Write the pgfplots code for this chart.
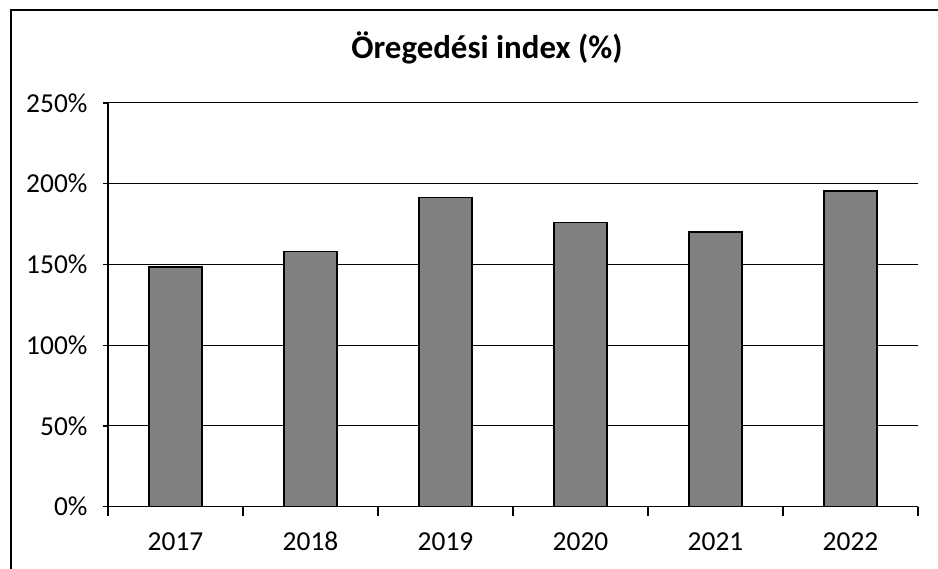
\documentclass[border=0pt]{standalone}
\usepackage{fontspec}
\setmainfont{Carlito}
\usepackage{pgfplots}
\pgfplotsset{compat=1.18}
\begin{document}
\begin{tikzpicture}[x=1bp,y=1bp]
\path[use as bounding box] (0,0) rectangle (938,569);
\draw[line width=1.2bp] (11,0) -- (11,559) -- (938,559);
\node[font=\fontsize{33}{38}\selectfont\bfseries] at (487,521) {Öregedési index (\%)};
\begin{axis}[
  at={(108bp,62.3bp)}, anchor=south west,
  scale only axis, width=810bp, height=403.7bp,
  xmin=-0.5, xmax=5.5, ymin=0, ymax=250,
  axis lines*=left,
  axis line style={line width=1.3bp, -},
  xtick={0,...,5},
  xticklabels={2017,2018,2019,2020,2021,2022},
  major x tick style={draw=none},
  minor xtick={-0.5,0.5,...,5.5},
  minor x tick style={line width=1.2bp, black},
  ytick={0,50,...,250},
  yticklabels={0\%,50\%,100\%,150\%,200\%,250\%},
  tick align=outside,
  major tick length=5bp, minor tick length=9bp,
  y tick style={line width=1.2bp, black},
  ymajorgrids, grid style={line width=1bp, black},
  tick label style={font=\fontsize{27.5}{32}\selectfont},
  xticklabel style={anchor=base, yshift=-39bp},
  yticklabel style={xshift=-12bp},
  /pgf/number format/assume math mode=true,
  ybar, bar width=0.39,
  clip=false,
]
\addplot[fill=black!50, draw=black, line width=1.5bp] coordinates {
 (0,148.5) (1,158) (2,191.5) (3,176) (4,170) (5,195.5)
};
\end{axis}
\end{tikzpicture}
\end{document}
